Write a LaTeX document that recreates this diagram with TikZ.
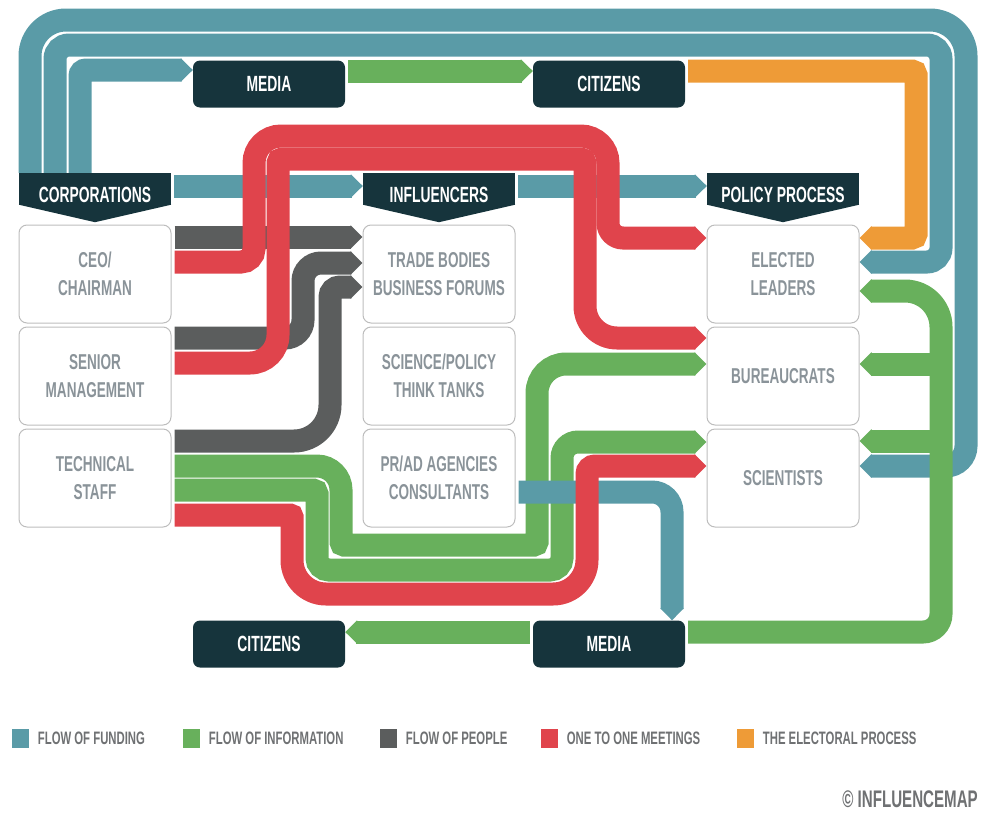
\documentclass[tikz,border=0pt]{standalone}
\usepackage{fontspec}
\newfontfamily\bebas[FakeStretch=0.63]{Liberation Sans}
\usetikzlibrary{arrows.meta,positioning}
\definecolor{fundc}{HTML}{5A9BA7}
\definecolor{infoc}{HTML}{68B05C}
\definecolor{peoplec}{HTML}{5B5D5D}
\definecolor{meetc}{HTML}{E0444C}
\definecolor{votec}{HTML}{EE9B37}
\definecolor{darkc}{HTML}{16343C}
\definecolor{boxline}{HTML}{BDBDBD}
\definecolor{boxtext}{HTML}{8A9399}
\definecolor{keytext}{HTML}{6F7173}
\tikzset{
  box/.style={draw=boxline, line width=1pt, rounded corners=8pt, minimum width=152pt, minimum height=98pt,
    inner sep=0pt, align=center, text=boxtext, font=\bebas\bfseries\fontsize{21.5}{28}\selectfont},
  hdr/.style={fill=darkc, minimum width=152pt, minimum height=32pt, inner sep=0pt, text=white,
    text height=27.7pt, text depth=0pt, font=\bebas\bfseries\fontsize{22}{26}\selectfont},
  tab/.style={fill=darkc, rounded corners=7pt, minimum width=152pt, minimum height=47pt, inner sep=0pt,
    text=white, font=\bebas\bfseries\fontsize{22}{26}\selectfont},
  band/.style={line width=23pt, -{Triangle[length=12pt,width=23pt]}, shorten <=3pt},
  fund/.style={band, draw=fundc},
  info/.style={band, draw=infoc},
  people/.style={band, draw=peoplec},
  meet/.style={band, draw=meetc},
  vote/.style={band, draw=votec},
  key/.style={minimum width=17pt, minimum height=19pt, inner sep=0pt},
  keylabel/.style={inner sep=0pt, text=keytext, font=\bebas\bfseries\fontsize{18}{20}\selectfont},
}
\begin{document}
\begin{tikzpicture}[x=1pt,y=-1pt]
    \useasboundingbox (0,0) rectangle (1001,822);
    %% columns
    \node (corp) at (95,189) [hdr] {CORPORATIONS};
    \node (inf) at (439,189) [hdr] {INFLUENCERS};
    \node (pol) at (783,189) [hdr] {POLICY PROCESS};
    \fill[darkc] ([yshift=0.5pt]corp.south west) -- ([yshift=0.5pt]corp.south east) -- ([yshift=-17pt]corp.south) -- cycle;
    \fill[darkc] ([yshift=0.5pt]inf.south west) -- ([yshift=0.5pt]inf.south east) -- ([yshift=-17pt]inf.south) -- cycle;
    \fill[darkc] ([yshift=0.5pt]pol.south west) -- ([yshift=0.5pt]pol.south east) -- ([yshift=-17pt]pol.south) -- cycle;
    \node (ceo) at (95,274) [box] {CEO/\\CHAIRMAN};
    \node (sen) at (95,376) [box] {SENIOR\\MANAGEMENT};
    \node (tech) at (95,478) [box] {TECHNICAL\\STAFF};
    \node (trade) at (439,274) [box] {TRADE BODIES\\BUSINESS FORUMS};
    \node (think) at (439,376) [box] {SCIENCE/POLICY\\THINK TANKS};
    \node (pr) at (439,478) [box] {PR/AD AGENCIES\\CONSULTANTS};
    \node (elect) at (783,274) [box] {ELECTED\\LEADERS};
    \node (bur) at (783,376) [box] {BUREAUCRATS};
    \node (sci) at (783,478) [box] {SCIENTISTS};
    \node (media1) at (269,84) [tab] {MEDIA};
    \node (citz1) at (609,84) [tab] {CITIZENS};
    \node (citz2) at (269,644) [tab] {CITIZENS};
    \node (media2) at (609,644) [tab] {MEDIA};
    %% funding
    \draw [fund, shorten <=0pt] (corp.north -| 30,0) [rounded corners=36pt] -- (30,20) -- (966,20) [rounded corners=20pt] -- (966,466) -- (sci.east |- 0,466);
    \draw [fund, shorten <=0pt] (corp.north -| 55,0) [rounded corners=14pt] -- (55,45) -- (941,45) -- (941,262) -- (elect.east |- 0,262);
    \draw [fund, shorten <=0pt] (corp.north -| 80,0) [rounded corners=6pt] -- (80,70) -- (media1.west |- 0,70);
    \draw [fund] (corp.east |- 0,186) -- (inf.west |- 0,186);
    \draw [fund] (inf.east |- 0,186) -- (pol.west |- 0,186);
    %% electoral process
    \draw [vote] (citz1.east |- 0,71) [rounded corners=4pt] -- (916,71) -- (916,238) -- (elect.east |- 0,238);
    %% people
    \draw [people] (ceo.east |- 0,237) -- (trade.west |- 0,237);
    \draw [people] (sen.east |- 0,338) [rounded corners=18pt] -- (303,338) -- (303,263) -- (trade.west |- 0,263);
    \draw [people] (tech.east |- 0,441) [rounded corners=36pt] -- (330,441) [rounded corners=10pt] -- (330,287) -- (trade.west |- 0,287);
    %% information
    \draw [info] (media1.east |- 0,71) -- (citz1.west |- 0,71);
    \draw [info] (media2.west |- 0,632) -- (citz2.east |- 0,632);
    \draw [info] (media2.east |- 0,632) [rounded corners=18pt] -- (941,632) [rounded corners=36pt] -- (941,291) -- (elect.east |- 0,291);
    \draw [info, shorten <=0pt] (941,364) -- (bur.east |- 0,364);
    \draw [info, shorten <=0pt] (941,441) -- (sci.east |- 0,441);
    \draw [info] (tech.east |- 0,466) [rounded corners=24pt] -- (341,466) [rounded corners=3pt] -- (341,545) -- (537,545) [rounded corners=29pt] -- (537,364) -- (bur.west |- 0,364);
    \draw [info] (tech.east |- 0,490) [rounded corners=4pt] -- (317,490) [rounded corners=12pt] -- (317,570) -- (562,570) [rounded corners=16pt] -- (562,442) -- (sci.west |- 0,442);
    \draw [fund] (pr.east |- 0,492) [rounded corners=20pt] -- (672,492) -- (672,0 |- media2.north);
    %% meetings
    \draw [meet] (tech.east |- 0,515) [rounded corners=2pt] -- (292,515) [rounded corners=34pt] -- (292,594) -- (587,594) [rounded corners=8pt] -- (587,466) -- (sci.west |- 0,466);
    \draw [meet] (ceo.east |- 0,262) [rounded corners=13pt] -- (254,262) [rounded corners=27pt] -- (254,136) -- (608,136) [rounded corners=15pt] -- (608,238) -- (elect.west |- 0,238);
    \draw [meet] (sen.east |- 0,363) [rounded corners=28pt] -- (278,363) [rounded corners=4pt] -- (278,159) -- (585,159) [rounded corners=32pt] -- (585,338) -- (bur.west |- 0,338);
    %% key
    \node (kfund) at (20,738) [key, fill=fundc] {};
    \node (lfund) [keylabel, right=9pt of kfund] {FLOW OF FUNDING};
    \node (kinfo) at (191,738) [key, fill=infoc] {};
    \node (linfo) [keylabel, right=9pt of kinfo] {FLOW OF INFORMATION};
    \node (kpeople) at (388,738) [key, fill=peoplec] {};
    \node (lpeople) [keylabel, right=9pt of kpeople] {FLOW OF PEOPLE};
    \node (kmeet) at (549,738) [key, fill=meetc] {};
    \node (lmeet) [keylabel, right=9pt of kmeet] {ONE TO ONE MEETINGS};
    \node (kvote) at (745,738) [key, fill=votec] {};
    \node (lvote) [keylabel, right=9pt of kvote] {THE ELECTORAL PROCESS};
    \node (copy) at (978,799) [anchor=east, inner sep=0pt, text=keytext, font=\bebas\bfseries\fontsize{24}{26}\selectfont] {© INFLUENCEMAP};
    %
\end{tikzpicture}
\end{document}
